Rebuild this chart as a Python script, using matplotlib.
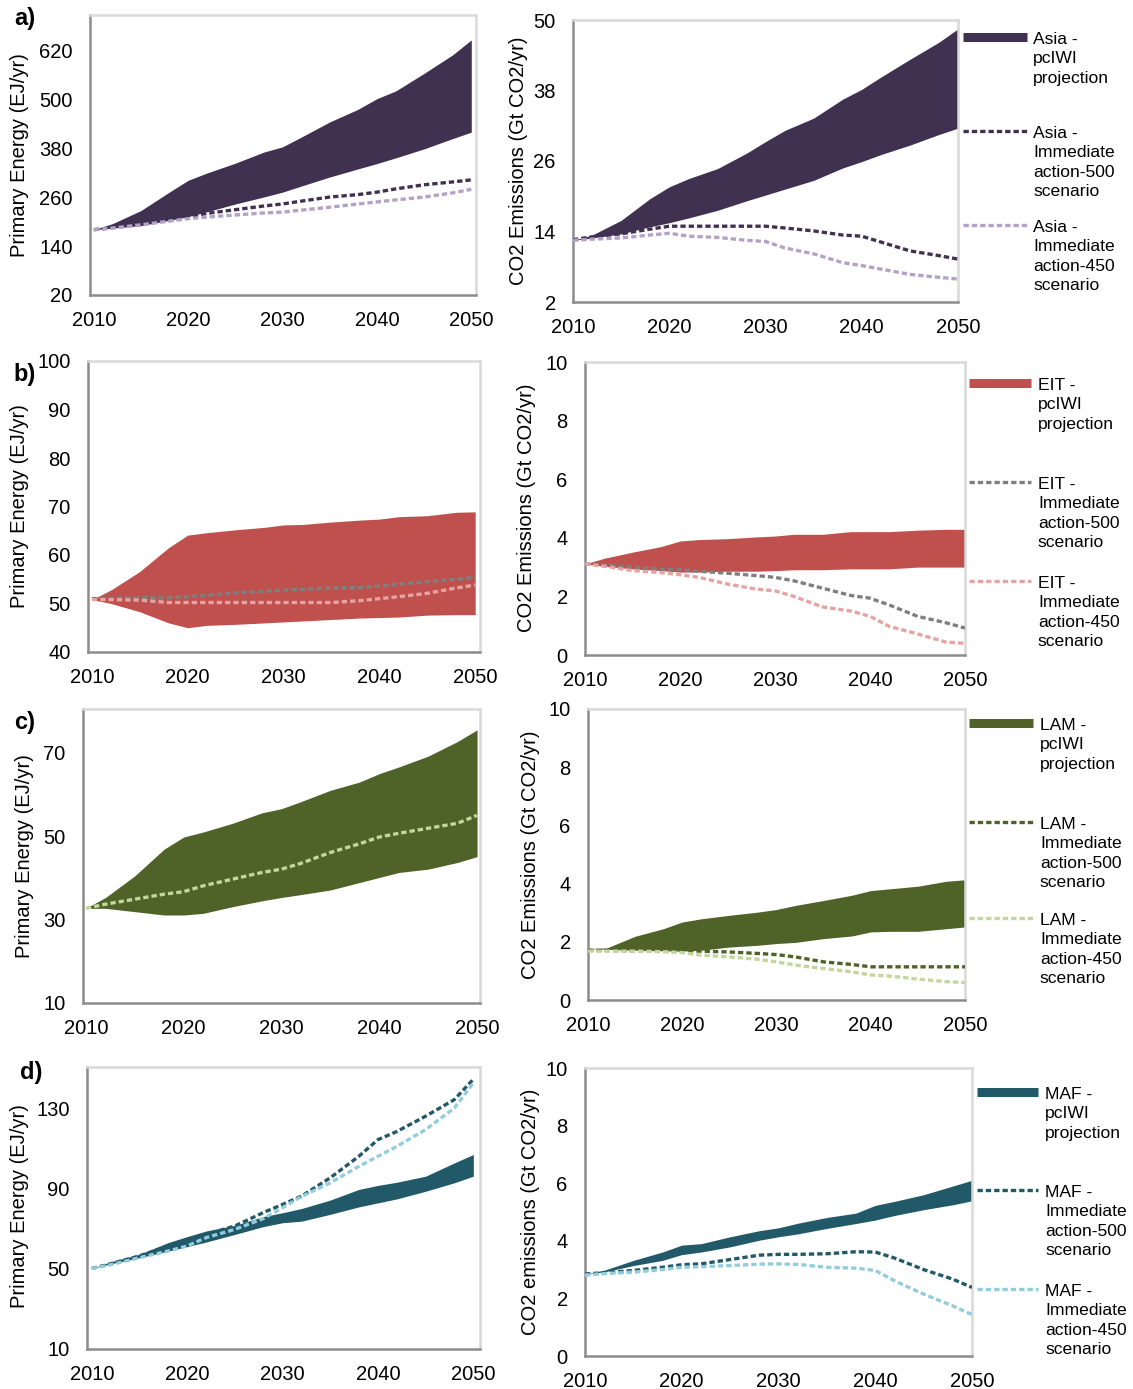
import matplotlib
matplotlib.use("Agg")
import matplotlib.pyplot as plt
from matplotlib.lines import Line2D

plt.rcParams['font.family'] = ['Liberation Sans', 'DejaVu Sans']

LARGEUR, HAUTEUR = 1133, 1389

annees = [2010, 2012, 2015, 2018, 2020, 2022, 2025, 2028, 2030, 2032, 2035, 2038, 2040, 2042, 2045, 2048, 2050]
annees_ticks = [2010, 2020, 2030, 2040, 2050]

# a) Asia
asia_pe_haut = [180, 195, 227, 272, 301, 319, 343, 370, 383, 407, 444, 475, 501, 520, 563, 608, 645]
asia_pe_bas = [180, 184, 190, 203, 212, 224, 243, 260, 272, 287, 309, 329, 342, 356, 378, 403, 419]
asia_pe_500 = [180, 185, 193, 204, 211, 220, 229, 238, 243, 250, 260, 266, 272, 280, 290, 297, 302]
asia_pe_450 = [180, 184, 192, 201, 207, 211, 216, 221, 223, 228, 235, 243, 248, 253, 260, 270, 279]
asia_co2_haut = [12.5, 13.4, 15.9, 19.6, 21.6, 23.0, 24.7, 27.3, 29.3, 31.2, 33.3, 36.5, 38.2, 40.3, 43.3, 46.2, 48.5]
asia_co2_bas = [12.5, 12.9, 13.6, 14.8, 15.5, 16.3, 17.6, 19.2, 20.2, 21.2, 22.7, 24.8, 25.9, 27.1, 28.7, 30.5, 31.6]
asia_co2_500 = [12.6, 13.1, 13.6, 14.4, 14.9, 14.9, 14.9, 14.9, 14.9, 14.6, 14.1, 13.4, 13.2, 12.2, 10.7, 9.9, 9.3]
asia_co2_450 = [12.5, 12.7, 12.9, 13.4, 13.7, 13.2, 13.0, 12.5, 12.3, 11.2, 10.2, 8.7, 8.2, 7.6, 6.7, 6.2, 5.9]

# b) EIT
eit_pe_haut = [50.8, 52.8, 56.6, 61.5, 64.1, 64.6, 65.2, 65.7, 66.2, 66.3, 66.8, 67.2, 67.4, 67.9, 68.1, 68.8, 68.9]
eit_pe_bas = [50.8, 50.0, 48.3, 46.0, 45.0, 45.5, 45.7, 46.0, 46.2, 46.4, 46.7, 47.0, 47.1, 47.2, 47.6, 47.7, 47.7]
eit_pe_500 = [51.0, 51.1, 51.2, 51.2, 51.4, 51.7, 52.2, 52.5, 52.8, 52.9, 53.2, 53.3, 53.6, 54.0, 54.5, 55.0, 55.4]
eit_pe_450 = [50.8, 50.8, 50.7, 50.2, 50.2, 50.2, 50.2, 50.2, 50.2, 50.2, 50.2, 50.6, 51.0, 51.4, 52.1, 53.2, 53.8]
eit_co2_haut = [3.11, 3.30, 3.51, 3.70, 3.89, 3.94, 3.97, 4.03, 4.06, 4.12, 4.12, 4.21, 4.21, 4.21, 4.26, 4.29, 4.29]
eit_co2_bas = [3.11, 3.03, 2.94, 2.88, 2.83, 2.83, 2.86, 2.86, 2.88, 2.91, 2.91, 2.94, 2.94, 2.94, 3.0, 3.0, 3.0]
eit_co2_500 = [3.11, 3.07, 3.0, 2.93, 2.91, 2.86, 2.79, 2.71, 2.65, 2.53, 2.28, 2.03, 1.94, 1.71, 1.32, 1.10, 0.92]
eit_co2_450 = [3.11, 3.03, 2.88, 2.81, 2.74, 2.65, 2.42, 2.25, 2.19, 2.0, 1.64, 1.50, 1.32, 0.98, 0.72, 0.44, 0.40]

# c) LAM
lam_pe_haut = [32.7, 35.3, 40.5, 46.9, 49.8, 51.0, 53.1, 55.6, 56.6, 58.3, 61.0, 63.0, 65.0, 66.6, 69.2, 72.7, 75.5]
lam_pe_bas = [32.7, 32.7, 31.9, 31.1, 31.1, 31.5, 33.1, 34.5, 35.3, 36.0, 37.1, 38.9, 40.1, 41.3, 42.1, 43.7, 45.1]
lam_pe_450 = [32.7, 33.7, 34.9, 36.1, 36.7, 38.1, 39.7, 41.3, 42.1, 43.5, 46.1, 48.2, 49.8, 50.7, 51.9, 53.1, 55.0]
lam_co2_haut = [1.77, 1.79, 2.19, 2.45, 2.68, 2.79, 2.91, 3.02, 3.11, 3.25, 3.42, 3.60, 3.76, 3.82, 3.91, 4.08, 4.13]
lam_co2_bas = [1.77, 1.74, 1.71, 1.69, 1.68, 1.71, 1.82, 1.88, 1.94, 1.98, 2.11, 2.20, 2.34, 2.36, 2.36, 2.45, 2.51]
lam_co2_500 = [1.71, 1.70, 1.69, 1.69, 1.69, 1.68, 1.65, 1.60, 1.56, 1.48, 1.31, 1.22, 1.14, 1.14, 1.14, 1.14, 1.14]
lam_co2_450 = [1.68, 1.68, 1.68, 1.66, 1.63, 1.54, 1.48, 1.40, 1.31, 1.20, 1.08, 0.97, 0.86, 0.82, 0.72, 0.63, 0.60]

# d) MAF
maf_pe_haut = [50.1, 53.5, 57.2, 63.0, 66.0, 68.8, 71.6, 76.0, 77.9, 80.0, 84.2, 89.5, 91.5, 93.1, 96.1, 102.7, 106.9]
maf_pe_bas = [50.1, 52.5, 55.5, 58.8, 61.0, 63.3, 67.1, 71.0, 72.9, 73.7, 77.1, 80.8, 82.8, 84.8, 88.6, 92.8, 96.1]
maf_pe_500 = [50.1, 52.5, 56.4, 61.3, 63.8, 67.1, 71.3, 78.0, 82.0, 86.2, 95.3, 106.0, 114.3, 118.4, 126.0, 134.2, 144.4]
maf_pe_450 = [50.1, 52.0, 55.5, 58.8, 61.3, 65.5, 69.6, 75.0, 80.4, 86.0, 92.8, 101.0, 106.0, 111.0, 119.3, 130.0, 142.5]
maf_co2_haut = [2.85, 2.98, 3.32, 3.61, 3.85, 3.90, 4.14, 4.35, 4.45, 4.61, 4.81, 4.96, 5.23, 5.37, 5.60, 5.90, 6.10]
maf_co2_bas = [2.85, 2.92, 3.14, 3.32, 3.52, 3.61, 3.79, 4.02, 4.14, 4.24, 4.43, 4.60, 4.72, 4.88, 5.08, 5.25, 5.39]
maf_co2_500 = [2.85, 2.89, 2.97, 3.08, 3.17, 3.20, 3.35, 3.50, 3.53, 3.53, 3.55, 3.62, 3.61, 3.40, 3.0, 2.67, 2.38]
maf_co2_450 = [2.81, 2.86, 2.91, 3.0, 3.08, 3.10, 3.14, 3.19, 3.20, 3.18, 3.08, 3.05, 2.97, 2.61, 2.15, 1.74, 1.44]

TAILLE = 14.5
POINTILLE = (0, (1.6, 0.9))


def position(x0, y0, x1, y1):
    # boite en pixels -> fraction de figure
    return [x0 / LARGEUR, 1 - y1 / HAUTEUR, (x1 - x0) / LARGEUR, (y1 - y0) / HAUTEUR]


def style_axe(ax, xlim, ylim, yticks):
    ax.set_xlim(*xlim)
    ax.set_ylim(*ylim)
    ax.set_xticks(annees_ticks)
    ax.set_yticks(yticks)
    ax.tick_params(length=0, labelsize=TAILLE)
    ax.tick_params(axis='x', pad=11.5)
    ax.tick_params(axis='y', pad=12.5)
    for cote in ['left', 'bottom']:
        ax.spines[cote].set_color('#8c8c8c')
        ax.spines[cote].set_linewidth(1.8)
    for cote in ['top', 'right']:
        ax.spines[cote].set_color('#d9d9d9')
        ax.spines[cote].set_linewidth(1.8)


def tracer(ax, haut, bas, couleur, lignes):
    ax.fill_between(annees, bas, haut, color=couleur, lw=0, zorder=2)
    for valeurs, c in lignes:
        ax.plot(annees, valeurs, color=c, lw=2.4, ls=POINTILLE, zorder=3,
                dash_capstyle='butt')


def legende(fig, region, couleurs, xh0, xh1, xt, ys):
    textes = [f"{region} -\npcIWI\nprojection",
              f"{region} -\nImmediate\naction-500\nscenario",
              f"{region} -\nImmediate\naction-450\nscenario"]
    for i, (txt, c, y) in enumerate(zip(textes, couleurs, ys)):
        yf = 1 - y / HAUTEUR
        if i == 0:
            ligne = Line2D([xh0 / LARGEUR, xh1 / LARGEUR], [yf, yf], color=c, lw=6.5,
                           transform=fig.transFigure, solid_capstyle='butt')
        else:
            ligne = Line2D([xh0 / LARGEUR, xh1 / LARGEUR], [yf, yf], color=c, lw=2.4,
                           ls=POINTILLE, transform=fig.transFigure)
        fig.add_artist(ligne)
        fig.text(xt / LARGEUR, 1 - (y - 5) / HAUTEUR, txt, ha='left', va='top',
                 fontsize=12.6, linespacing=1.37)


def label_y(fig, x, y, texte):
    fig.text(x / LARGEUR, 1 - y / HAUTEUR, texte, rotation=90, ha='center', va='center',
             fontsize=TAILLE)


def main():
    fig = plt.figure(figsize=(LARGEUR / 100, HAUTEUR / 100), dpi=100)

    rangees = [
        dict(lettre="a)", lpos=(25, 18), region="Asia",
             couleurs=['#403151', '#403151', '#b3a2c7'],
             g=(90, 15, 476, 295), gx=(2009.6, 2050.5), gy=(20, 706), gt=[20, 140, 260, 380, 500, 620],
             d=(573, 20, 958, 302), dy=(2, 50), dt=[2, 14, 26, 38, 50],
             pe=(asia_pe_haut, asia_pe_bas, [asia_pe_500, asia_pe_450]),
             co2=(asia_co2_haut, asia_co2_bas, [asia_co2_500, asia_co2_450]),
             lab_g=(20, 155), lab_d=(518, 161), lab_txt="CO2 Emissions (Gt CO2/yr)",
             leg=(963, 1027, 1033, [37, 131, 225])),
        dict(lettre="b)", lpos=(25, 375), region="EIT",
             couleurs=['#c0504d', '#7f7f7f', '#e6a3a2'],
             g=(88, 361, 480, 652), gx=(2009.6, 2050.5), gy=(40, 100), gt=[40, 50, 60, 70, 80, 90, 100],
             d=(585, 362, 965, 655), dy=(0, 10), dt=[0, 2, 4, 6, 8, 10],
             pe=(eit_pe_haut, eit_pe_bas, [eit_pe_500, eit_pe_450]),
             co2=(eit_co2_haut, eit_co2_bas, [eit_co2_500, eit_co2_450]),
             lab_g=(20, 506), lab_d=(527, 508), lab_txt="CO2 Emissions (Gt CO2/yr)",
             leg=(969, 1031, 1038, [383, 482, 581])),
        dict(lettre="c)", lpos=(25, 722), region="LAM",
             couleurs=['#4f6228', '#4f6228', '#c3d69b'],
             g=(83, 709, 480, 1003), gx=(2009.7, 2050.3), gy=(10, 80.5), gt=[10, 30, 50, 70],
             d=(588, 709, 965, 1000), dy=(0, 10), dt=[0, 2, 4, 6, 8, 10],
             pe=(lam_pe_haut, lam_pe_bas, [lam_pe_450]),
             co2=(lam_co2_haut, lam_co2_bas, [lam_co2_500, lam_co2_450]),
             lab_g=(24, 856), lab_d=(530, 855), lab_txt="CO2 Emissions (Gt CO2/yr)",
             leg=(969, 1033, 1040, [723, 822, 918])),
        dict(lettre="d)", lpos=(31, 1072), region="MAF",
             couleurs=['#215968', '#215968', '#93cddd'],
             g=(87, 1067, 480, 1349), gx=(2009.5, 2050.7), gy=(10, 150.5), gt=[10, 50, 90, 130],
             d=(585, 1068, 972, 1356), dy=(0, 10), dt=[0, 2, 4, 6, 8, 10],
             pe=(maf_pe_haut, maf_pe_bas, [maf_pe_500, maf_pe_450]),
             co2=(maf_co2_haut, maf_co2_bas, [maf_co2_500, maf_co2_450]),
             lab_g=(20, 1206), lab_d=(530, 1212), lab_txt="CO2 emissions (Gt CO2/yr)",
             leg=(977, 1038, 1045, [1092, 1190, 1289])),
    ]

    for r in rangees:
        c_bande, c_500, c_450 = r['couleurs']

        ax_g = fig.add_axes(position(*r['g']))
        haut, bas, lignes = r['pe']
        couleurs_lignes = [c_500, c_450] if len(lignes) == 2 else [c_450]
        tracer(ax_g, haut, bas, c_bande, list(zip(lignes, couleurs_lignes)))
        style_axe(ax_g, r['gx'], r['gy'], r['gt'])

        ax_d = fig.add_axes(position(*r['d']))
        haut, bas, lignes = r['co2']
        tracer(ax_d, haut, bas, c_bande, list(zip(lignes, [c_500, c_450])))
        style_axe(ax_d, (2010, 2050), r['dy'], r['dt'])

        label_y(fig, *r['lab_g'], "Primary Energy (EJ/yr)")
        label_y(fig, *r['lab_d'], r['lab_txt'])
        fig.text(r['lpos'][0] / LARGEUR, 1 - r['lpos'][1] / HAUTEUR, r['lettre'],
                 ha='center', va='center', fontsize=17, fontweight='bold')
        legende(fig, r['region'], r['couleurs'], *r['leg'])

    fig.savefig("out.png", dpi=100)


if __name__ == "__main__":
    main()
